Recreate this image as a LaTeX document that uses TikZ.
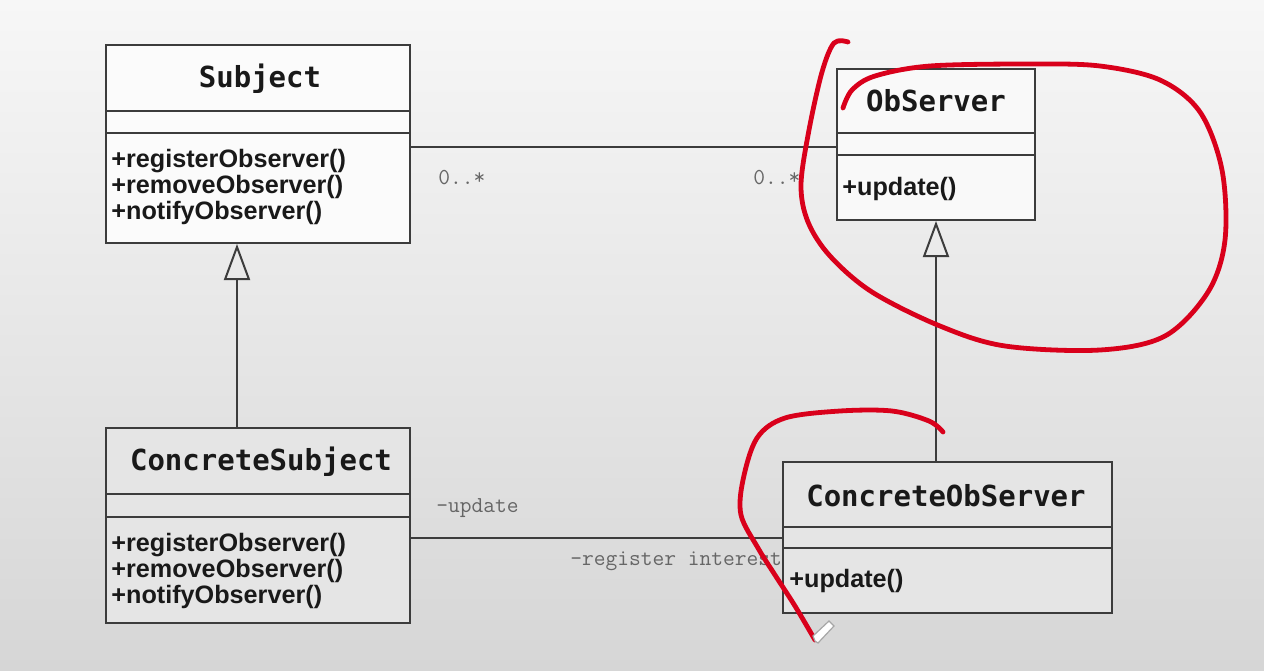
\documentclass[tikz,border=0pt]{standalone}
\usepackage{fontspec}
\newfontfamily\titlefont{DejaVu Sans Mono}
\newfontfamily\opfont{Liberation Sans}
\usetikzlibrary{arrows.meta,fit}
\definecolor{boxline}{HTML}{3C3C3C}
\definecolor{pen}{HTML}{D9001B}
\definecolor{bgtop}{HTML}{F7F7F7}
\definecolor{bgbot}{HTML}{D6D6D6}
\begin{document}
\begin{tikzpicture}[x=0.5pt,y=-0.5pt,
  classbox/.style={draw=boxline, line width=1pt, inner sep=0pt},
  sepline/.style={draw=boxline, line width=1pt},
  titletext/.style={font=\titlefont\bfseries\fontsize{14.5}{15}\selectfont, text=black!90, inner sep=0pt},
  ops/.style={font=\opfont\bfseries\fontsize{12.6}{13}\selectfont, align=left, anchor=west, inner sep=0pt, text=black!90},
  lbl/.style={font=\ttfamily\fontsize{11.4}{11.4}\selectfont, text=black!60, inner sep=0pt},
  assoc/.style={draw=boxline, line width=1pt},
  gen/.style={draw=boxline, line width=1pt, -{Triangle[open, length=18pt, width=13pt]}},
  redpen/.style={draw=pen, line width=2.4pt, line cap=round, line join=round}
]
\useasboundingbox (0,0) rectangle (1264,670);
\shade[top color=bgtop, bottom color=bgbot] (0,0) rectangle (1264,670);

% Subject
\node[classbox, fill=white!97!gray, fit={(106,45) (410,243)}] (subj) {};
\draw[sepline] (subj.west |- 0,111) -- (subj.east |- 0,111);
\draw[sepline] (subj.west |- 0,133) -- (subj.east |- 0,133);
\node[titletext] (subjT) at (260,79) {Subject};
\node[ops] (subjO) at (111,187) {+registerObserver()\\+removeObserver()\\+notifyObserver()};

% ObServer
\node[classbox, fill=white!95!gray, fit={(837,69) (1035,220)}] (obs) {};
\draw[sepline] (obs.west |- 0,133) -- (obs.east |- 0,133);
\draw[sepline] (obs.west |- 0,155) -- (obs.east |- 0,155);
\node[titletext] (obsT) at (936,101) {ObServer};
\node[ops] (obsO) at (842,189) {+update()};

% ConcreteSubject
\node[classbox, fill=black!10, fit={(106,428) (410,623)}] (csubj) {};
\draw[sepline] (csubj.west |- 0,494) -- (csubj.east |- 0,494);
\draw[sepline] (csubj.west |- 0,517) -- (csubj.east |- 0,517);
\node[titletext] (csubjT) at (261,462) {ConcreteSubject};
\node[ops] (csubjO) at (111,571) {+registerObserver()\\+removeObserver()\\+notifyObserver()};

% ConcreteObServer
\node[classbox, fill=black!10, fit={(783,462) (1112,613)}] (cobs) {};
\draw[sepline] (cobs.west |- 0,527) -- (cobs.east |- 0,527);
\draw[sepline] (cobs.west |- 0,548) -- (cobs.east |- 0,548);
\node[titletext] (cobsT) at (946,496) {ConcreteObServer};
\node[ops] (cobsO) at (789,581) {+update()};

% connectors
\coordinate (ya) at (0,147);
\coordinate (xs) at (237,0);
\coordinate (xo) at (936,0);
\draw[assoc] (subj.east |- ya) -- (obs.west |- ya);
\draw[assoc] (csubj.east |- cobs.west) -- (cobs.west);
\draw[gen] (csubj.north -| xs) -- (subj.south -| xs);
\draw[gen] (cobs.north -| xo) -- (obs.south -| xo);

% labels
\node[lbl, anchor=west] (m1) at (438,178) {0..*};
\node[lbl, anchor=west] (m2) at (753,178) {0..*};
\node[lbl, anchor=west] (r1) at (436,508) {-update};
\node[lbl, anchor=west] (r2) at (570,561) {-register interest};

% red annotations
\draw[redpen] plot[smooth, tension=0.55] coordinates {(848,42) (834,43) (822,72) (809,130) (801,185) (808,222) (830,256) (872,292) (940,326) (1005,346) (1100,350) (1165,336) (1208,292) (1225,240) (1222,170) (1200,112) (1160,80) (1100,66) (1030,64) (930,66) (875,76) (852,90) (843,108)};
\draw[redpen] plot[smooth, tension=0.55] coordinates {(943,432) (929,421) (892,411) (840,411) (785,418) (757,438) (743,480) (741,515) (758,548) (775,575) (795,606) (815,640)};

% pen cursor
\draw[gray!70, fill=white, line width=0.6pt] (815,641) -- (813,636) -- (829,621) -- (834,626) -- (818,643) -- cycle;
\end{tikzpicture}
\end{document}
